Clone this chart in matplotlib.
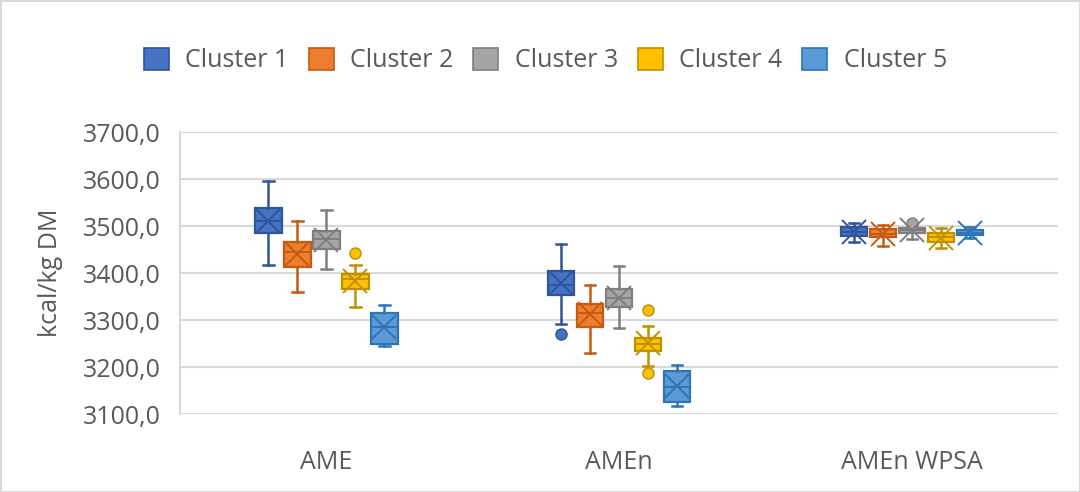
import matplotlib.pyplot as plt
from matplotlib.patches import Patch

plt.rcParams['font.family'] = ['Open Sans', 'DejaVu Sans']

categories = ['AME', 'AMEn', 'AMEn WPSA']
clusters = ['Cluster 1', 'Cluster 2', 'Cluster 3', 'Cluster 4', 'Cluster 5']
face_colors = ['#4472C4', '#ED7D31', '#A5A5A5', '#FFC000', '#5B9BD5']
edge_colors = ['#2F5597', '#C55A11', '#7F7F7F', '#BF9000', '#2E75B6']

# per cluster, values for AME, AMEn, AMEn WPSA
whislo = [[3418, 3292, 3467], [3360, 3229, 3457], [3408, 3282, 3473], [3328, 3202, 3454], [3244, 3117, 3474]]
q1 = [[3486, 3354, 3478], [3413, 3285, 3476], [3452, 3327, 3486], [3365, 3234, 3467], [3250, 3125, 3480]]
med = [[3510, 3375, 3488], [3444, 3314, 3484], [3472, 3346, 3491], [3388, 3250, 3476], [3285, 3158, 3486]]
q3 = [[3539, 3404, 3498], [3467, 3335, 3493], [3489, 3365, 3496], [3397, 3262, 3486], [3314, 3191, 3492]]
whishi = [[3595, 3461, 3507], [3510, 3375, 3502], [3533, 3414, 3500], [3418, 3287, 3495], [3333, 3204, 3498]]
means = [[3510, 3378, 3488], [3441, 3312, 3482], [3470, 3347, 3492], [3382, 3252, 3475], [3285, 3160, 3486]]
fliers = [[[], [3271], []], [[], [], []], [[], [], [3506]], [[3443], [3321, 3188], []], [[], [], []]]

fig = plt.figure(figsize=(10.8, 4.92), dpi=100)
fig.patch.set_edgecolor('#d9d9d9')
fig.patch.set_linewidth(2)
ax = fig.add_axes([0.1667, 0.1585, 0.8133, 0.5732])

for k in range(len(clusters)):
    stats = []
    for i in range(len(categories)):
        stats.append(dict(whislo=whislo[k][i], q1=q1[k][i], med=med[k][i], q3=q3[k][i],
                          whishi=whishi[k][i], mean=means[k][i], fliers=fliers[k][i]))
    pos = [i + (k - 2) * 0.099 for i in range(len(categories))]
    ec = edge_colors[k]
    ax.bxp(stats, positions=pos, widths=0.09, patch_artist=True, showmeans=True,
           capwidths=0.035,
           boxprops=dict(facecolor=face_colors[k], edgecolor=ec, linewidth=1.6),
           medianprops=dict(color=ec, linewidth=1.4),
           whiskerprops=dict(color=ec, linewidth=1.8),
           capprops=dict(color=ec, linewidth=1.8),
           meanprops=dict(marker='x', markersize=17, markeredgecolor=ec, markeredgewidth=1.4),
           flierprops=dict(marker='o', markersize=8, markerfacecolor=face_colors[k],
                           markeredgecolor=ec, markeredgewidth=1),
           zorder=3)

ax.set_xlim(-0.5, 2.5)
ax.set_ylim(3100, 3700)
ax.set_yticks(range(3100, 3701, 100))
ax.set_yticklabels([f'{v},0' for v in range(3100, 3701, 100)])
ax.set_xticks(range(len(categories)))
ax.set_xticklabels(categories)
ax.grid(axis='y', color='#d9d9d9', linewidth=1.5, zorder=0)
ax.set_axisbelow(True)
for s in ['top', 'right', 'bottom']:
    ax.spines[s].set_visible(False)
ax.spines['left'].set_color('#d9d9d9')
ax.spines['left'].set_linewidth(1.5)
ax.tick_params(axis='both', length=0, labelsize=18, colors='#595959')
ax.tick_params(axis='y', pad=14)
ax.tick_params(axis='x', pad=26)
ax.set_ylabel('kcal/kg DM', fontsize=18, color='#595959', labelpad=14)

handles = [Patch(facecolor=face_colors[k], edgecolor=edge_colors[k], linewidth=1.2) for k in range(len(clusters))]
fig.legend(handles, clusters, loc='center', bbox_to_anchor=(0.505, 0.877), ncol=5, frameon=False,
           fontsize=18, labelcolor='#595959', handlelength=1.0, handleheight=1.0,
           handletextpad=0.65, columnspacing=0.8)

fig.savefig('out.png', dpi=100, edgecolor=fig.get_edgecolor())
